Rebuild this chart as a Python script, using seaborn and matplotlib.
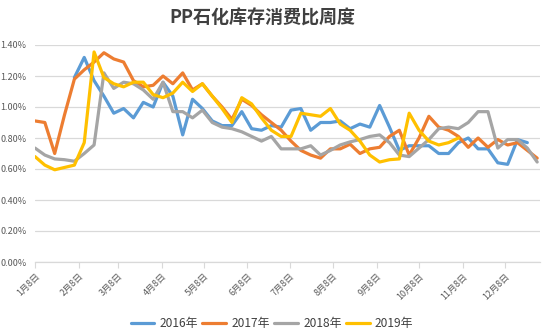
import numpy as np
import pandas as pd
import matplotlib
matplotlib.use("Agg")
import matplotlib.pyplot as plt
import seaborn as sns
from matplotlib.ticker import FuncFormatter

# ---------------- data ----------------
years = ["2016年", "2017年", "2018年", "2019年"]
colors = ["#5B9BD5", "#ED7D31", "#A5A5A5", "#FFC000"]

tick_days = [0, 31, 59, 90, 120, 151, 181, 212, 243, 273, 304, 334]
tick_labels = ["1月8日", "2月8日", "3月8日", "4月8日", "5月8日", "6月8日",
               "7月8日", "8月8日", "9月8日", "10月8日", "11月8日", "12月8日"]

nan = np.nan
s2016 = [nan, nan, nan, nan, 1.19, 1.32, 1.17, 1.07, 0.96, 0.99, 0.93, 1.03,
         1.00, 1.16, 1.07, 0.82, 1.05, 0.99, 0.91, 0.88, 0.88, 0.97, 0.86, 0.85,
         0.88, 0.87, 0.98, 0.99, 0.85, 0.90, 0.90, 0.91, 0.86, 0.89, 0.87, 1.01,
         0.87, 0.72, 0.75, 0.75, 0.75, 0.70, 0.70, 0.77, 0.80, 0.73, 0.73, 0.64,
         0.63, 0.79, 0.77, nan]
s2017 = [0.91, 0.90, 0.70, 0.95, 1.18, 1.24, 1.29, 1.35, 1.31, 1.29, 1.17, 1.13,
         1.14, 1.20, 1.15, 1.22, 1.11, 1.15, 1.07, 1.00, 0.92, 1.05, 1.01, 0.95,
         0.90, 0.85, 0.78, 0.72, 0.69, 0.67, 0.73, 0.73, 0.76, 0.70, 0.73, 0.74,
         0.81, 0.85, 0.69, 0.80, 0.94, 0.87, 0.85, 0.81, 0.74, 0.80, 0.74, 0.79,
         0.755, 0.77, 0.72, 0.67]
s2018 = [0.735, 0.69, 0.665, 0.66, 0.65, 0.70, 0.755, 1.22, 1.12, 1.16, 1.15, 1.11,
         1.05, 1.16, 0.97, 0.97, 0.93, 0.98, 0.90, 0.87, 0.86, 0.84, 0.81, 0.78,
         0.81, 0.73, 0.73, 0.73, 0.75, 0.69, 0.72, 0.755, 0.775, 0.79, 0.81, 0.82,
         0.77, 0.69, 0.68, 0.735, 0.79, 0.86, 0.87, 0.86, 0.90, 0.97, 0.97, 0.735,
         0.79, 0.79, 0.735, 0.645]
s2019 = [0.68, 0.625, 0.595, 0.61, 0.625, 0.77, 1.355, 1.19, 1.15, 1.13, 1.16, 1.16,
         1.08, 1.06, 1.09, 1.16, 1.10, 1.15, 1.07, 0.99, 0.90, 1.06, 1.02, 0.93,
         0.85, 0.81, 0.81, 0.96, 0.95, 0.94, 0.99, 0.89, 0.85, 0.78, 0.69, 0.645,
         0.66, 0.665, 0.96, 0.85, 0.78, 0.755, 0.77, 0.80, nan, nan, nan, nan,
         nan, nan, nan, nan]

series = [s2016, s2017, s2018, s2019]
week_days = [7 * i for i in range(52)]

rows = []
for yr, vals in zip(years, series):
    for d, v in zip(week_days, vals):
        rows.append({"day": d, "value": v, "year": yr})
df = pd.DataFrame(rows).dropna()

# ---------------- plot ----------------
sns.set_theme(style="white")
plt.rcParams["font.family"] = ["Noto Sans CJK SC", "DejaVu Sans"]

fig = plt.figure(figsize=(5.5, 3.34), dpi=100)
ax = fig.add_axes([35 / 550, 1 - 262 / 334, (540 - 35) / 550, (262 - 45) / 334])

sns.lineplot(data=df, x="day", y="value", hue="year", hue_order=years,
             palette=colors, estimator=None, linewidth=2.3, ax=ax, legend=True)

ax.set_xlim(0, 359)
ax.set_ylim(0, 1.4)
ax.set_yticks(np.arange(0, 1.41, 0.2))
ax.yaxis.set_major_formatter(FuncFormatter(lambda v, p: f"{v:.2f}%"))
ax.set_xticks(tick_days)
ax.set_xticklabels(tick_labels, rotation=45, ha="right", rotation_mode="anchor")
ax.tick_params(axis="x", labelsize=6.5, colors="#595959", length=4, width=0.8,
               direction="out", bottom=True, pad=3)
ax.tick_params(axis="x", color="#D9D9D9")
ax.tick_params(axis="y", labelsize=6.5, colors="#595959", length=0, pad=6)
ax.grid(axis="y", color="#D9D9D9", linewidth=0.9)
ax.grid(axis="x", visible=False)
for s in ["top", "right", "left"]:
    ax.spines[s].set_visible(False)
ax.spines["bottom"].set_color("#D9D9D9")
ax.spines["bottom"].set_linewidth(0.9)
ax.set_xlabel("")
ax.set_ylabel("")

handles, labels = ax.get_legend_handles_labels()
ax.get_legend().remove()
fig.legend(handles, labels, loc="center", bbox_to_anchor=(272 / 550, 1 - 324 / 334),
           ncol=4, frameon=False, fontsize=8.6, handlelength=2.0,
           handletextpad=0.4, columnspacing=0.4, labelcolor="#404040")

fig.text(262 / 550, 1 - 18 / 334, "PP石化库存消费比周度", ha="center", va="center",
         fontsize=13, fontweight="bold", color="#404040")

fig.savefig("out.png", dpi=100)
